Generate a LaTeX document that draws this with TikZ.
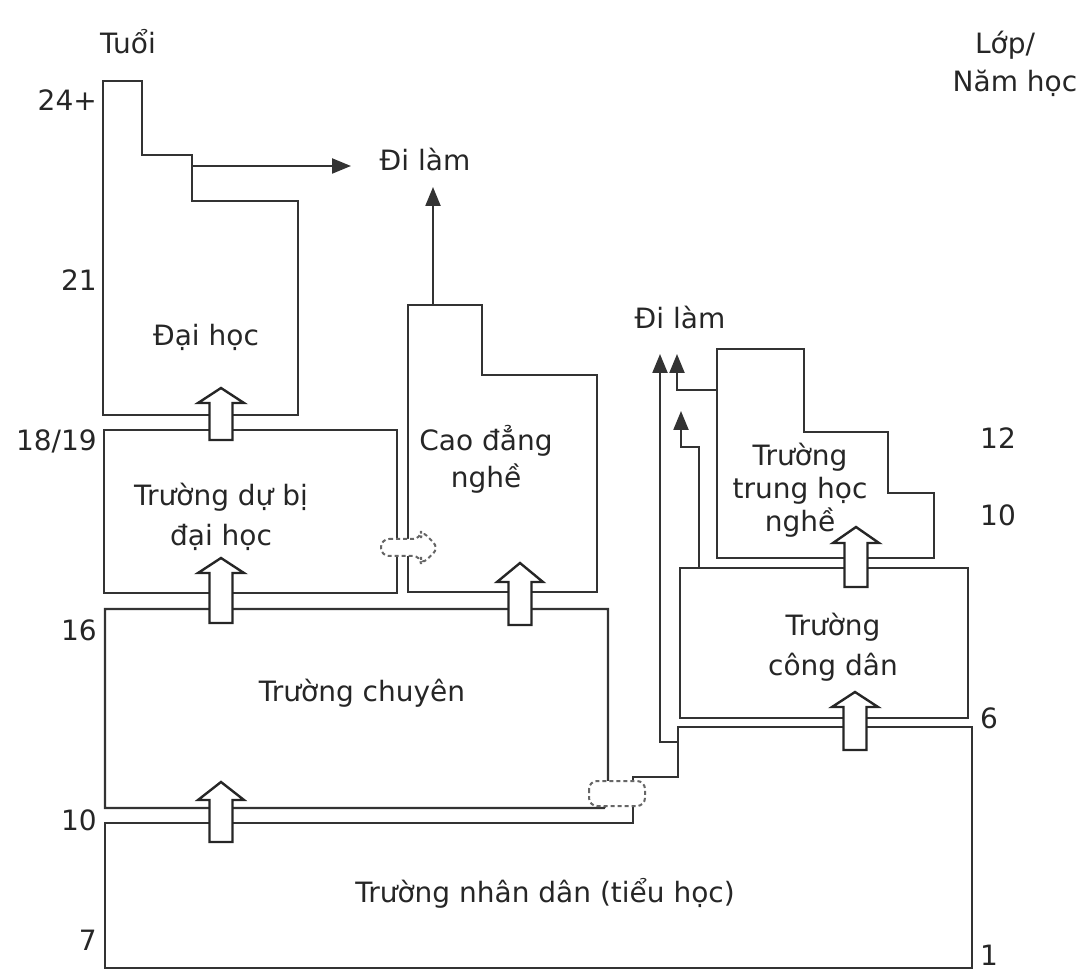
\documentclass[tikz,border=0pt]{standalone}
\usepackage{fontspec}
\setmainfont{DejaVu Sans}
\usetikzlibrary{arrows.meta}
\tikzset{
  ln/.style={line width=2.2pt, draw=black!80, line join=miter},
  lbl/.style={font=\fontsize{28}{37}\selectfont, text=black!85, inner sep=0pt, align=center},
  outarrow/.style={ln, -{Triangle[length=19pt,width=15pt]}},
  blk/.style={line width=2.4pt, draw=black!85, fill=white, line join=miter},
  dsh/.style={draw=black!60, dash pattern=on 4pt off 3pt, line width=2pt, fill=white, rounded corners=8pt},
}
\newcommand{\blockarrow}[4]{%
  \draw[blk] ({#1-11.5},#4) -- ({#1-11.5},#3) -- ({#1-23},#3) -- (#1,#2) -- ({#1+23},#3) -- ({#1+11.5},#3) -- ({#1+11.5},#4) -- cycle;
}
\begin{document}
\begin{tikzpicture}[x=1pt,y=-1pt]
\useasboundingbox (0,0) rectangle (1088,973);

% axis labels
\node[lbl] (tuoi) at (128,42) {Tuổi};
\node[lbl] (lop) at (1005,45) {Lớp/};
\node[lbl] (namhoc) at (1015,83) {Năm học};
\node[lbl,anchor=east] (a24) at (97,100) {24+};
\node[lbl,anchor=east] (a21) at (97,280) {21};
\node[lbl,anchor=east] (a18) at (97,441) {18/19};
\node[lbl,anchor=east] (a16) at (97,630) {16};
\node[lbl,anchor=east] (a10) at (97,820) {10};
\node[lbl,anchor=east] (a7) at (97,940) {7};
\node[lbl,anchor=west] (g12) at (980,438) {12};
\node[lbl,anchor=west] (g10) at (980,515) {10};
\node[lbl,anchor=west] (g6) at (980,718) {6};
\node[lbl,anchor=west] (g1) at (980,955) {1};

% Dai hoc
\draw[ln] (103,81) -- (142,81) -- (142,155) -- (192,155) -- (192,201) -- (298,201) -- (298,415) -- (103,415) -- cycle;
% Du bi dai hoc
\draw[ln] (104,430) rectangle (397,593);
% Cao dang nghe
\draw[ln] (408,305) -- (482,305) -- (482,375) -- (597,375) -- (597,592) -- (408,592) -- cycle;
% Truong chuyen
\draw[ln] (608,782) -- (608,609) -- (105,609) -- (105,808) -- (604,808) -- (606,805);
% Truong nhan dan
\draw[ln] (633,805) -- (633,823) -- (105,823) -- (105,968) -- (972,968) -- (972,727) -- (678,727) -- (678,777) -- (633,777) -- (633,782);
% Truong cong dan
\draw[ln] (680,568) rectangle (968,718);
% Truong trung hoc nghe
\draw[ln] (717,349) -- (804,349) -- (804,432) -- (888,432) -- (888,493) -- (934,493) -- (934,558) -- (717,558) -- cycle;

% dashed transfer shapes
\draw[dsh] (381,539) -- (421,539) -- (421,530) -- (439,548) -- (421,565) -- (421,556) -- (381,556) -- cycle;
\draw[dsh] (589,781) rectangle (645,806);

% texts
\node[lbl] (daihoc) at (206,337) {Đại học};
\node[lbl,font=\fontsize{28}{40}\selectfont] (dubi) at (221,517) {Trường dự bị\\đại học};
\node[lbl] (caodang) at (486,459) {Cao đẳng\\nghề};
\node[lbl] (chuyen) at (362,693) {Trường chuyên};
\node[lbl] (nhandan) at (545,893) {Trường nhân dân (tiểu học)};
\node[lbl,font=\fontsize{28}{33}\selectfont] (thn) at (800,490) {Trường\\trung học\\nghề};
\node[lbl,font=\fontsize{28}{40}\selectfont] (congdan) at (833,647) {Trường\\công dân};
\node[lbl] (dilam1) at (425,160) {Đi làm};
\node[lbl] (dilam2) at (680,318) {Đi làm};

% exits to work
\coordinate (dhexit) at (192,166);
\coordinate (dhend) at (351,166);
\coordinate (cdtop) at (433,305);
\coordinate (cdend) at (433,187);
\draw[outarrow] (dhexit) -- (dhend);
\draw[outarrow] (cdtop) -- (cdend);

\coordinate (ndexit) at (678,742);
\coordinate (thnexit) at (717,390);
\coordinate (cdanexit) at (699,568);
\draw[outarrow] (ndexit) -- (660,742) -- (660,354);
\draw[outarrow] (thnexit) -- (677,390) -- (677,354);
\draw[outarrow] (cdanexit) -- (699,447) -- (681,447) -- (681,411);

% block arrows
\blockarrow{221}{388}{403}{440}
\blockarrow{221}{558}{573}{623}
\blockarrow{221}{782}{800}{842}
\blockarrow{520}{563}{582}{625}
\blockarrow{856}{527}{543}{587}
\blockarrow{855}{692}{707}{750}
\end{tikzpicture}
\end{document}
